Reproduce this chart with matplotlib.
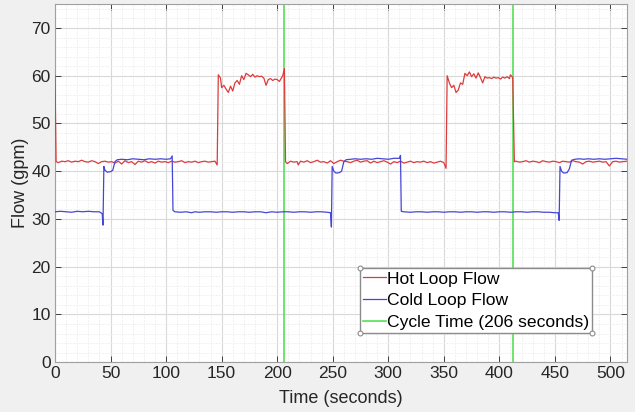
import matplotlib
matplotlib.use("Agg")
import matplotlib.pyplot as plt
from matplotlib.ticker import MultipleLocator
from matplotlib.lines import Line2D

plt.rcParams['font.family'] = ['Liberation Sans', 'DejaVu Sans']

# ---- data: (time s, flow gpm) ----
hot_loop = [
    (0, 60.0), (1, 42.0), (3, 41.8), (6, 42.1), (9, 42.0), (12, 42.2), (15, 41.9), (18, 42.1),
    (21, 42.0), (24, 42.3), (27, 42.0), (30, 41.9), (33, 42.2), (36, 42.0), (39, 41.6), (42, 42.0),
    (45, 42.1), (48, 41.9), (51, 42.0), (54, 41.7), (57, 42.1), (60, 41.5), (63, 42.2), (66, 41.8),
    (69, 42.0), (72, 41.4), (75, 42.1), (78, 41.9), (81, 42.2), (84, 41.8), (87, 42.0), (90, 41.7),
    (93, 42.1), (96, 41.9), (99, 42.0), (102, 41.8), (105, 42.1), (108, 41.9), (111, 42.0),
    (114, 42.2), (117, 41.8), (120, 42.0), (123, 41.9), (126, 42.1), (129, 41.8), (132, 42.0),
    (135, 42.1), (138, 41.9), (141, 42.0), (144, 42.1), (146, 41.3),
    (147, 60.2), (149, 59.5), (150, 57.5), (152, 58.0), (154, 57.2), (156, 56.5), (158, 57.8),
    (160, 56.8), (162, 58.5), (164, 59.0), (166, 58.2), (168, 60.0), (170, 59.2), (172, 60.5),
    (174, 60.2), (176, 59.8), (178, 60.3), (180, 59.7), (182, 60.0), (184, 59.8), (186, 59.9),
    (188, 59.5), (190, 58.0), (192, 59.2), (194, 59.4), (196, 59.0), (198, 59.3), (200, 59.2),
    (202, 58.8), (204, 59.6), (205, 60.0), (206.5, 61.5),
    (207.5, 42.0), (209, 41.6), (212, 42.1), (215, 41.9), (218, 42.0), (219, 41.3), (221, 42.1),
    (224, 41.9), (227, 42.2), (230, 41.8), (233, 42.0), (236, 42.3), (239, 41.9), (242, 42.0),
    (245, 41.7), (248, 42.2), (251, 41.6), (254, 42.0), (257, 42.3), (260, 42.1), (263, 42.0),
    (266, 41.8), (269, 42.1), (272, 42.3), (275, 41.9), (278, 42.1), (281, 42.2), (284, 41.7),
    (287, 42.1), (290, 41.8), (293, 42.0), (296, 42.2), (299, 41.9), (302, 41.5), (305, 42.0),
    (308, 41.8), (311, 42.1), (314, 41.7), (317, 41.9), (320, 42.1), (323, 41.8), (326, 42.0),
    (329, 41.9), (332, 42.1), (335, 41.8), (338, 42.0), (341, 41.7), (344, 41.9), (347, 42.1),
    (350, 41.8), (352, 40.6),
    (353, 60.0), (355, 58.5), (357, 57.5), (359, 58.0), (361, 56.5), (363, 57.0), (365, 58.5),
    (367, 58.2), (369, 60.5), (371, 60.0), (373, 60.8), (375, 59.8), (377, 60.4), (379, 59.5),
    (381, 60.6), (383, 59.6), (385, 58.5), (387, 59.8), (389, 59.5), (391, 59.6), (393, 59.4),
    (395, 59.7), (397, 59.5), (399, 59.6), (401, 59.3), (403, 59.7), (405, 59.5), (407, 59.8),
    (409, 59.4), (410, 60.2), (412, 59.6),
    (413.5, 42.0), (415, 42.1), (418, 41.9), (421, 42.0), (424, 42.2), (427, 41.9), (430, 42.1),
    (433, 42.0), (436, 41.8), (439, 42.2), (442, 42.0), (445, 41.9), (448, 42.1), (451, 42.0),
    (454, 41.8), (457, 42.1), (460, 42.0), (463, 41.9), (466, 42.2), (469, 42.0), (472, 41.9),
    (475, 41.5), (478, 42.0), (481, 42.1), (484, 41.9), (487, 42.0), (490, 42.1), (493, 41.9),
    (496, 42.0), (499, 41.1), (502, 42.0), (505, 42.1), (508, 41.9), (511, 42.0), (515, 42.1),
]

cold_loop = [
    (0, 31.5), (5, 31.6), (10, 31.5), (15, 31.4), (20, 31.6), (25, 31.5), (30, 31.6), (35, 31.5),
    (40, 31.5), (42.5, 31.1), (43.2, 28.7), (44, 41.0), (45, 40.2), (47, 39.8), (50, 39.9),
    (52, 40.2), (54, 42.0), (56, 42.4), (60, 42.5), (65, 42.4), (70, 42.6), (75, 42.5), (80, 42.4),
    (85, 42.6), (90, 42.5), (95, 42.6), (100, 42.5), (104, 42.6), (105.5, 43.2),
    (106.2, 31.8), (108, 31.5), (113, 31.4), (118, 31.5), (123, 31.3), (126, 31.5), (130, 31.4),
    (135, 31.5), (140, 31.5), (145, 31.4), (150, 31.5), (155, 31.5), (160, 31.4), (165, 31.5),
    (170, 31.5), (175, 31.4), (180, 31.5), (185, 31.5), (190, 31.3), (195, 31.5), (200, 31.4),
    (205, 31.5), (210, 31.5), (215, 31.4), (220, 31.5), (225, 31.5), (230, 31.4), (235, 31.5),
    (240, 31.5), (245, 31.4), (248, 31.3), (248.8, 28.3),
    (249.5, 41.0), (251, 40.0), (253, 39.6), (256, 39.7), (258, 40.0), (260, 42.0), (262, 42.4),
    (266, 42.5), (270, 42.6), (275, 42.5), (280, 42.6), (285, 42.5), (290, 42.7), (295, 42.6),
    (300, 42.5), (305, 42.7), (310, 42.7), (311, 43.3),
    (311.7, 31.6), (314, 31.5), (320, 31.4), (325, 31.5), (330, 31.5), (335, 31.4), (340, 31.5),
    (345, 31.5), (350, 31.4), (355, 31.5), (360, 31.5), (365, 31.4), (370, 31.5), (375, 31.5),
    (380, 31.4), (385, 31.5), (390, 31.5), (395, 31.4), (400, 31.5), (405, 31.5), (410, 31.4),
    (415, 31.5), (420, 31.5), (425, 31.4), (430, 31.5), (435, 31.5), (440, 31.4), (445, 31.4),
    (450, 31.3), (453, 31.3), (453.8, 29.7),
    (454.6, 41.0), (456, 40.0), (458, 39.6), (461, 39.7), (463, 40.5), (465, 42.3), (468, 42.5),
    (472, 42.6), (476, 42.5), (480, 42.6), (485, 42.5), (490, 42.6), (495, 42.5), (500, 42.6),
    (505, 42.7), (510, 42.6), (515, 42.5),
]

cycle_times = [206, 412]

labels = ["Hot Loop Flow", "Cold Loop Flow", "Cycle Time (206 seconds)"]

hot_t, hot_v = zip(*hot_loop)
cold_t, cold_v = zip(*cold_loop)

# ---- figure ----
fig = plt.figure(figsize=(6.35, 4.12), dpi=100, facecolor="#f0f0f0")
ax = fig.add_axes([0.0866, 0.121, 0.901, 0.869])
ax.set_facecolor("white")

red = "#de3b3b"
blue = "#4646d6"
green = "#55e055"

ax.plot(hot_t, hot_v, color=red, lw=0.9, label=labels[0], zorder=3)
ax.plot(cold_t, cold_v, color=blue, lw=0.9, label=labels[1], zorder=3)
for i, ct in enumerate(cycle_times):
    ax.axvline(ct, color=green, lw=1.2, label=labels[2] if i == 0 else None, zorder=2)

ax.set_xlim(0, 515)
ax.set_ylim(0, 75)
ax.xaxis.set_major_locator(MultipleLocator(50))
ax.xaxis.set_minor_locator(MultipleLocator(10))
ax.yaxis.set_major_locator(MultipleLocator(10))
ax.yaxis.set_minor_locator(MultipleLocator(2))
ax.grid(which="major", color="#d9d9d9", lw=0.8)
ax.grid(which="minor", color="#ececec", lw=0.6, ls=(0, (2, 1.5)))
ax.set_axisbelow(True)

ax.tick_params(which="major", direction="in", length=4, top=True, right=True,
               labelsize=12.5, colors="#262626", width=0.6, pad=3)
ax.tick_params(which="minor", length=0, top=True, right=True)
for s in ax.spines.values():
    s.set_color("#a0a0a0")
    s.set_linewidth(0.8)

ax.set_xlabel("Time (seconds)", fontsize=13, color="#262626", labelpad=6)
ax.set_ylabel("Flow (gpm)", fontsize=13, color="#262626", labelpad=2)

leg = ax.legend(loc="lower left", bbox_to_anchor=(0.533, 0.081, 0.405, 0.2), mode="expand",
                fontsize=12.6, frameon=True, fancybox=False, framealpha=1, edgecolor="#8c8c8c",
                handlelength=1.3, handletextpad=0.05, borderpad=0.2, labelspacing=0.36,
                borderaxespad=0)
leg.get_frame().set_linewidth(1.0)

# selection handles at legend corners (as in the reference screenshot)
fig.canvas.draw()
bb = leg.get_frame().get_window_extent().transformed(fig.transFigure.inverted())
for cx in (bb.x0, bb.x1):
    for cy in (bb.y0, bb.y1):
        fig.add_artist(Line2D([cx], [cy], marker="o", ms=3.5, mfc="white", mec="#8c8c8c",
                              mew=0.8, transform=fig.transFigure, zorder=10))

fig.savefig("out.png", dpi=100, facecolor=fig.get_facecolor())
